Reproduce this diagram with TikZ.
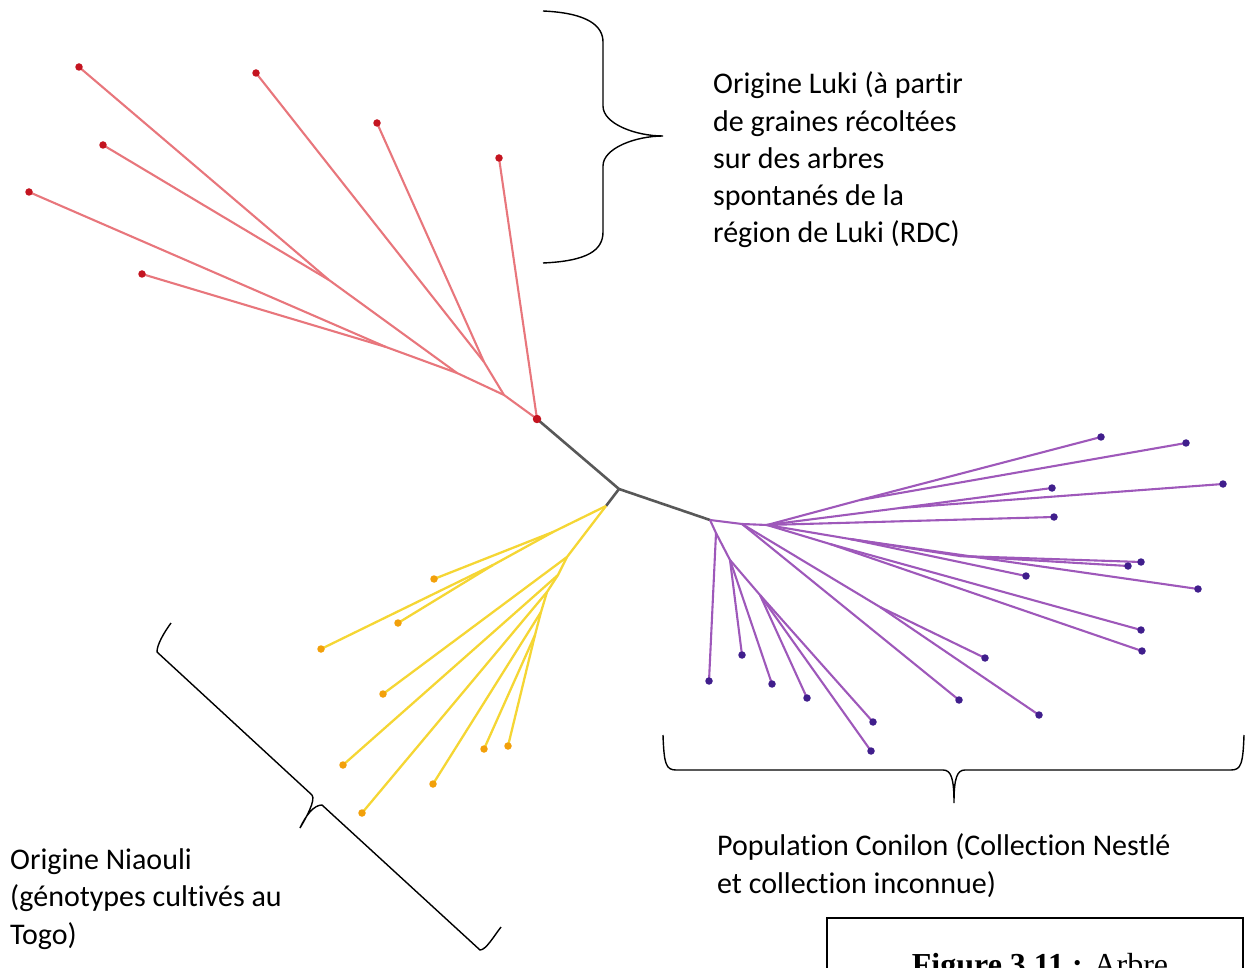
\documentclass[tikz,border=0pt]{standalone}
\usepackage{fontspec}
\setmainfont[Ligatures=NoCommon]{Carlito}
\newfontfamily\capfont{Liberation Serif}
\usepackage{tikz}
\usepackage{xcolor}
\definecolor{lukired}{RGB}{232,118,124}
\definecolor{lukidark}{RGB}{196,20,32}
\definecolor{niaouliyel}{RGB}{245,214,52}
\definecolor{niaoulidark}{RGB}{242,160,10}
\definecolor{conilonvio}{RGB}{158,88,186}
\definecolor{conilondark}{RGB}{64,30,140}
\definecolor{trunkgray}{RGB}{88,88,88}

\begin{document}
\begin{tikzpicture}[x=1pt,y=-1pt,
    backbone/.style={line width=2.6pt,trunkgray},
    redbranch/.style={line width=2.1pt,lukired},
    yelbranch/.style={line width=2.3pt,niaouliyel},
    viobranch/.style={line width=2.1pt,conilonvio},
    reddot/.style={circle,fill=lukidark,inner sep=0pt,minimum size=7.5pt},
    yeldot/.style={circle,fill=niaoulidark,inner sep=0pt,minimum size=7.5pt},
    viodot/.style={circle,fill=conilondark,inner sep=0pt,minimum size=7.5pt},
    groupbrace/.style={line width=1.4pt,black},
    lbl/.style={anchor=base west,align=left,inner sep=0pt,font=\fontsize{30}{37.3}\selectfont}]
    \useasboundingbox (0,0) rectangle (1254,968);
    % central backbone
    \coordinate (c) at (619,489);
    \coordinate (r0) at (537,419);
    \coordinate (y0) at (606,506);
    \coordinate (p0) at (710,520);
    \draw[backbone] (r0) -- (c) -- (p0);
    \draw[backbone] (c) -- (y0);
    % Luki group (red)
    \coordinate (r1) at (504,395);
    \coordinate (r2) at (484,362);
    \coordinate (r3) at (457,373);
    \coordinate (r4) at (386,347);
    \coordinate (r5) at (329,280);
    \draw[redbranch] (r0) -- (r1) -- (r3) -- (r5);
    \draw[redbranch] (r1) -- (r2);
    \draw[redbranch] (r3) -- (r4);
    \foreach \n/\x/\y/\p in {la/499/158/r0, lb/377/123/r2, lc/256/73/r2, ld/79/67/r5,
        le/103/145/r5, lf/29/192/r4, lg/142/274/r4}{
        \draw[redbranch] (\p) -- (\x,\y);
        \node[reddot] (\n) at (\x,\y) {};
    }
    \node[reddot,minimum size=8.5pt] (lroot) at (r0) {};
    % Niaouli group (yellow)
    \coordinate (y1) at (553,532);
    \coordinate (y2) at (493,565);
    \coordinate (y3) at (567,557);
    \coordinate (y4) at (558,575);
    \coordinate (y5) at (547,592);
    \coordinate (y6) at (541,612);
    \coordinate (y7) at (535,635);
    \draw[yelbranch] (y0) -- (y1) -- (y2);
    \draw[yelbranch] (y0) -- (y3) -- (y4) -- (y5) -- (y6) -- (y7);
    \foreach \n/\x/\y/\p in {na/434/579/y1, nb/398/623/y2, nc/321/649/y2, nd/383/694/y3,
        ne/343/765/y4, nf/362/813/y5, ng/433/784/y6, nh/484/749/y7, ni/508/746/y7}{
        \draw[yelbranch] (\p) -- (\x,\y);
        \node[yeldot] (\n) at (\x,\y) {};
    }
    % Conilon group (purple)
    \coordinate (pe) at (742,524);
    \coordinate (p1) at (767,525);
    \coordinate (pa) at (860,500);
    \coordinate (pb) at (900,508);
    \coordinate (pc) at (850,539);
    \coordinate (pc1) at (960,556);
    \coordinate (pd) at (830,544);
    \coordinate (pf) at (880,607);
    \coordinate (p2) at (716,533);
    \coordinate (p3) at (730,560);
    \coordinate (pg) at (760,595);
    \draw[viobranch] (p0) -- (pe) -- (p1);
    \draw[viobranch] (p1) -- (pa);
    \draw[viobranch] (p1) -- (pb);
    \draw[viobranch] (p1) -- (pc) -- (pc1);
    \draw[viobranch] (p1) -- (pd);
    \draw[viobranch] (pe) -- (pf);
    \draw[viobranch] (p0) -- (p2) -- (p3) -- (pg);
    \foreach \n/\x/\y/\p in {ca/1101/437/pa, cb/1186/443/pa, cc/1052/488/pb, cd/1223/484/pb,
        ce/1054/517/p1, cf/1141/562/pc1, cg/1128/566/pc1, ch/1026/576/pc, ci/1198/589/pc,
        cj/1141/630/pd, ck/1142/651/pd, cl/985/658/pf, cm/1039/715/pf, cn/959/700/pe,
        co/709/681/p2, cp/742/655/p3, cq/772/684/p3, cr/807/698/pg, cs/873/722/pg, ct/871/751/pg}{
        \draw[viobranch] (\p) -- (\x,\y);
        \node[viodot] (\n) at (\x,\y) {};
    }
    % braces
    \draw[groupbrace] (543,11) .. controls (588,13) and (603,26) .. (603,42) -- (603,106)
        .. controls (603,124) and (636,136) .. (663,136)
        .. controls (636,136) and (603,148) .. (603,166) -- (603,232)
        .. controls (603,250) and (588,261) .. (543,263);
    \draw[groupbrace] (171,623) .. controls (163,634) and (157,645) .. (157,652) -- (312,795)
        .. controls (316,800) and (306,818) .. (300,828)
        .. controls (306,815) and (314,805) .. (322,805) -- (480,950)
        .. controls (486,950) and (494,936) .. (501,927);
    \draw[groupbrace] (663,735) .. controls (664,764) and (666,770) .. (676,770) -- (943,770)
        .. controls (951,770) and (954,778) .. (954,803)
        .. controls (954,778) and (957,770) .. (965,770) -- (1231,770)
        .. controls (1241,770) and (1243,764) .. (1244,735);
    % labels
    \node[lbl] (luki) at (713,243) {Origine Luki (à partir\\de graines récoltées\\sur des arbres\\spontanés de la\\région de Luki (RDC)};
    \node[lbl] (niaouli) at (10,944) {Origine Niaouli\\(génotypes cultivés au\\Togo)};
    \node[lbl] (conilon) at (717,893) {Population Conilon (Collection Nestlé\\et collection inconnue)};
    % caption box, cut by the page edge
    \draw[line width=1.6pt] (827,1010) -- (827,918) -- (1243,918) -- (1243,1010);
    \node[anchor=base,inner sep=0pt,font=\capfont\fontsize{32}{38}\selectfont] (cap) at (1040,975) {\textbf{Figure 3.11 :} Arbre};
\end{tikzpicture}
\end{document}
